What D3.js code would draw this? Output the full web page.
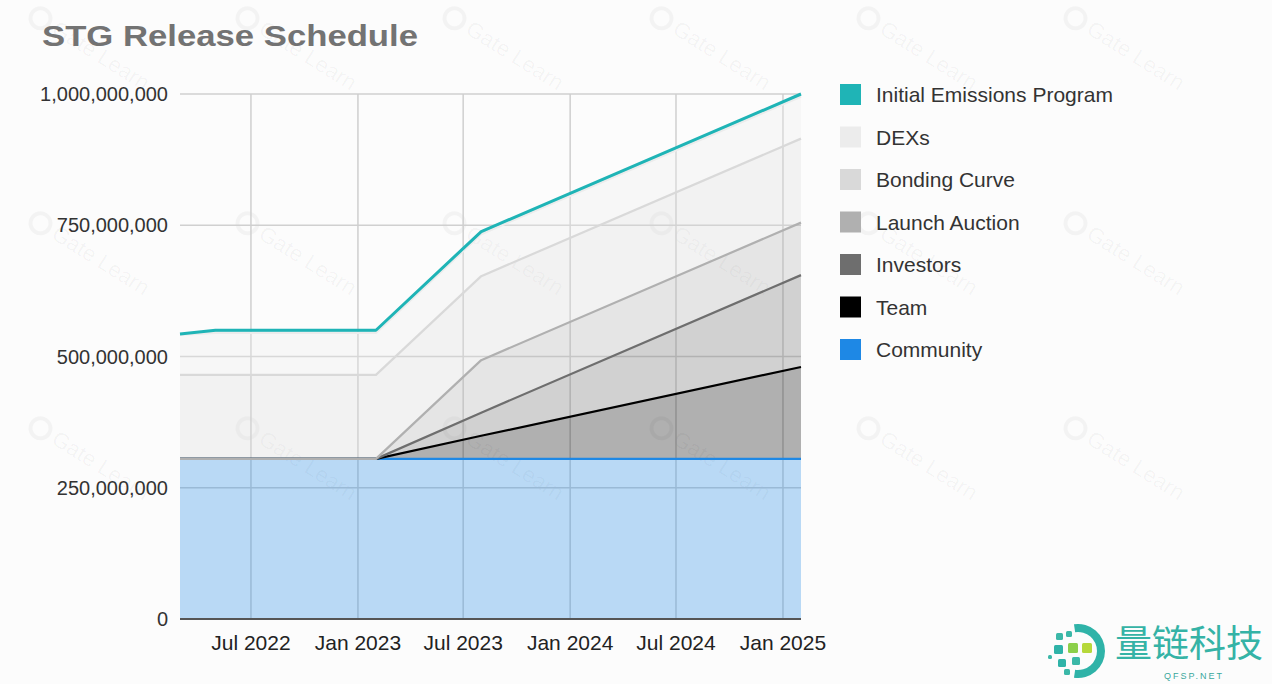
<!DOCTYPE html>
<html>
<head>
<meta charset="utf-8">
<script src="https://cdn.jsdelivr.net/npm/d3@7"></script>
<style>
body { margin: 0; background: #fcfcfc; }
svg { display: block; font-family: Arial, "Liberation Sans", sans-serif; }
</style>
</head>
<body>
<div id="chart"></div>
<script>
// data (stack order bottom -> top)
var dates = ["2022-03-01", "2022-05-01", "2023-02-01", "2023-08-01", "2025-02-01"];
var seriesNames = ["Community", "Team", "Investors", "Launch Auction", "Bonding Curve", "DEXs", "Initial Emissions Program"];
var seriesColors = ["#1e88e5", "#000000", "#6e6e6e", "#b0b0b0", "#d9d9d9", "#ececec", "#1fb4b6"];

var community = [305e6, 305e6, 305e6, 305e6, 305e6];
var team = [0, 0, 0, 44e6, 175e6];
var investors = [0, 0, 0, 44e6, 175e6];
var launchAuction = [0, 0, 0, 100e6, 100e6];
var bondingCurve = [160e6, 160e6, 160e6, 160e6, 160e6];
var dexs = [76e6, 80e6, 80e6, 80e6, 80e6];
var emissions = [2e6, 5e6, 5e6, 5e6, 5e6];

var yTicks = [0, 250e6, 500e6, 750e6, 1e9];

var W = 1272, H = 684;
var plot = {left: 180, right: 801, top: 94, bottom: 619};

var parse = d3.timeParse("%Y-%m-%d");
var valuesBySeries = [community, team, investors, launchAuction, bondingCurve, dexs, emissions];

var rows = dates.map(function(d, i) {
	var row = {date: parse(d)};
	seriesNames.forEach(function(name, k) { row[name] = valuesBySeries[k][i]; });
	return row;
});

var stacked = d3.stack().keys(seriesNames)(rows);

var x = d3.scaleTime()
	.domain(d3.extent(rows, function(d) { return d.date; }))
	.range([plot.left, plot.right]);

var y = d3.scaleLinear()
	.domain([0, 1e9])
	.range([plot.bottom, plot.top]);

var svg = d3.select("#chart").append("svg")
	.attr("width", W)
	.attr("height", H);

svg.append("rect").attr("width", W).attr("height", H).attr("fill", "#fcfcfc");

// faint watermarks
var wm = svg.append("g").style("font-size", "22px");
for (var cx = 30; cx < 1150; cx += 207) {
	for (var cy = 20; cy < 560; cy += 205) {
		var g = wm.append("g").attr("transform", "translate(" + cx + "," + cy + ") rotate(32)");
		g.append("circle").attr("cx", 8).attr("cy", -7).attr("r", 10)
			.attr("fill", "none").attr("stroke", "#000").attr("stroke-opacity", 0.035).attr("stroke-width", 4);
		g.append("text").attr("x", 24).attr("fill", "#000").attr("fill-opacity", 0.04).text("Gate Learn");
	}
}

// gridlines
var xTicks = x.ticks(d3.timeMonth.every(6));
svg.append("g").selectAll("line.h")
	.data(yTicks.slice(1))
	.enter().append("line")
	.attr("x1", plot.left).attr("x2", plot.right)
	.attr("y1", function(d) { return y(d); }).attr("y2", function(d) { return y(d); })
	.attr("stroke", "#d0d0d0").attr("stroke-width", 1.5);

svg.append("g").selectAll("line.v")
	.data(xTicks)
	.enter().append("line")
	.attr("x1", function(d) { return x(d); }).attr("x2", function(d) { return x(d); })
	.attr("y1", plot.top).attr("y2", plot.bottom)
	.attr("stroke", "#cfcfcf").attr("stroke-width", 1.5);

// areas
var area = d3.area()
	.x(function(d) { return x(d.data.date); })
	.y0(function(d) { return y(d[0]); })
	.y1(function(d) { return y(d[1]); });

svg.append("g").selectAll("path")
	.data(stacked)
	.enter().append("path")
	.attr("d", area)
	.attr("fill", function(d, i) { return seriesColors[i]; })
	.attr("fill-opacity", 0.3);

// baseline
svg.append("line")
	.attr("x1", plot.left).attr("x2", plot.right)
	.attr("y1", y(0)).attr("y2", y(0))
	.attr("stroke", "#555").attr("stroke-width", 2);

// lines
var line = d3.line()
	.x(function(d) { return x(d.data.date); })
	.y(function(d) { return y(d[1]); });

var top = stacked[stacked.length - 1];
svg.append("path")
	.attr("d", line(top))
	.attr("fill", "none")
	.attr("stroke", seriesColors[seriesColors.length - 1])
	.attr("stroke-opacity", 0.3)
	.attr("stroke-width", 11)
	.attr("stroke-linejoin", "round");

svg.append("g").selectAll("path")
	.data(stacked)
	.enter().append("path")
	.attr("d", line)
	.attr("fill", "none")
	.attr("stroke", function(d, i) { return seriesColors[i]; })
	.attr("stroke-width", function(d, i) { return i == stacked.length - 1 ? 3 : 2.2; })
	.attr("stroke-linejoin", "round");

// axes labels
svg.append("g").selectAll("text")
	.data(yTicks)
	.enter().append("text")
	.attr("x", 168)
	.attr("y", function(d) { return y(d); })
	.attr("dy", "0.36em")
	.attr("text-anchor", "end")
	.attr("fill", "#333")
	.style("font-size", "20px")
	.text(function(d) { return d3.format(",")(d); });

svg.append("g").selectAll("text")
	.data(xTicks)
	.enter().append("text")
	.attr("x", function(d) { return x(d); })
	.attr("y", 650)
	.attr("text-anchor", "middle")
	.attr("fill", "#222")
	.style("font-size", "21px")
	.text(d3.timeFormat("%b %Y"));

// title
svg.append("text")
	.attr("x", 42).attr("y", 46)
	.attr("fill", "#737373")
	.attr("textLength", 376)
	.attr("lengthAdjust", "spacingAndGlyphs")
	.style("font-size", "29px")
	.style("font-weight", "bold")
	.text("STG Release Schedule");

// legend (top of stack first)
var legendItems = seriesNames.map(function(n, i) { return {name: n, color: seriesColors[i]}; }).reverse();
var legend = svg.append("g").attr("transform", "translate(840,84)");
var item = legend.selectAll("g")
	.data(legendItems)
	.enter().append("g")
	.attr("transform", function(d, i) { return "translate(0," + (i * 42.5) + ")"; });
item.append("rect")
	.attr("width", 21).attr("height", 21)
	.attr("fill", function(d) { return d.color; });
item.append("text")
	.attr("x", 36).attr("y", 18)
	.attr("fill", "#333")
	.style("font-size", "21px")
	.text(function(d) { return d.name; });

// logo
var logo = svg.append("g").attr("transform", "translate(1078,651)");
logo.append("path")
	.attr("d", d3.arc()({innerRadius: 19, outerRadius: 27, startAngle: -0.15, endAngle: Math.PI + 0.15}))
	.attr("fill", "#2fb3a8");
var sq = [[-22, -18, 7, "#3bb8a8"], [-12, -20, 6, "#3bb8a8"], [-24, -6, 9, "#2fb3a8"], [-10, -8, 10, "#8ccf4a"], [4, -8, 10, "#b6d83a"], [-20, 8, 8, "#2fb3a8"], [-6, 6, 8, "#3bb8a8"], [-14, 18, 6, "#3bb8a8"], [-30, 4, 4, "#3bb8a8"]];
logo.selectAll("rect").data(sq).enter().append("rect")
	.attr("x", function(d) { return d[0]; }).attr("y", function(d) { return d[1]; })
	.attr("width", function(d) { return d[2]; }).attr("height", function(d) { return d[2]; })
	.attr("rx", 1.5)
	.attr("fill", function(d) { return d[3]; });

svg.append("text")
	.attr("x", 1115).attr("y", 657)
	.attr("fill", "#35b3a6")
	.style("font-family", "'Noto Sans CJK SC', sans-serif")
	.style("font-size", "37px")
	.text("量链科技");
svg.append("text")
	.attr("x", 1194).attr("y", 679)
	.attr("text-anchor", "middle")
	.attr("fill", "#3aa89c")
	.style("font-size", "9px")
	.style("letter-spacing", "2px")
	.text("QFSP.NET");
</script>
</body>
</html>
